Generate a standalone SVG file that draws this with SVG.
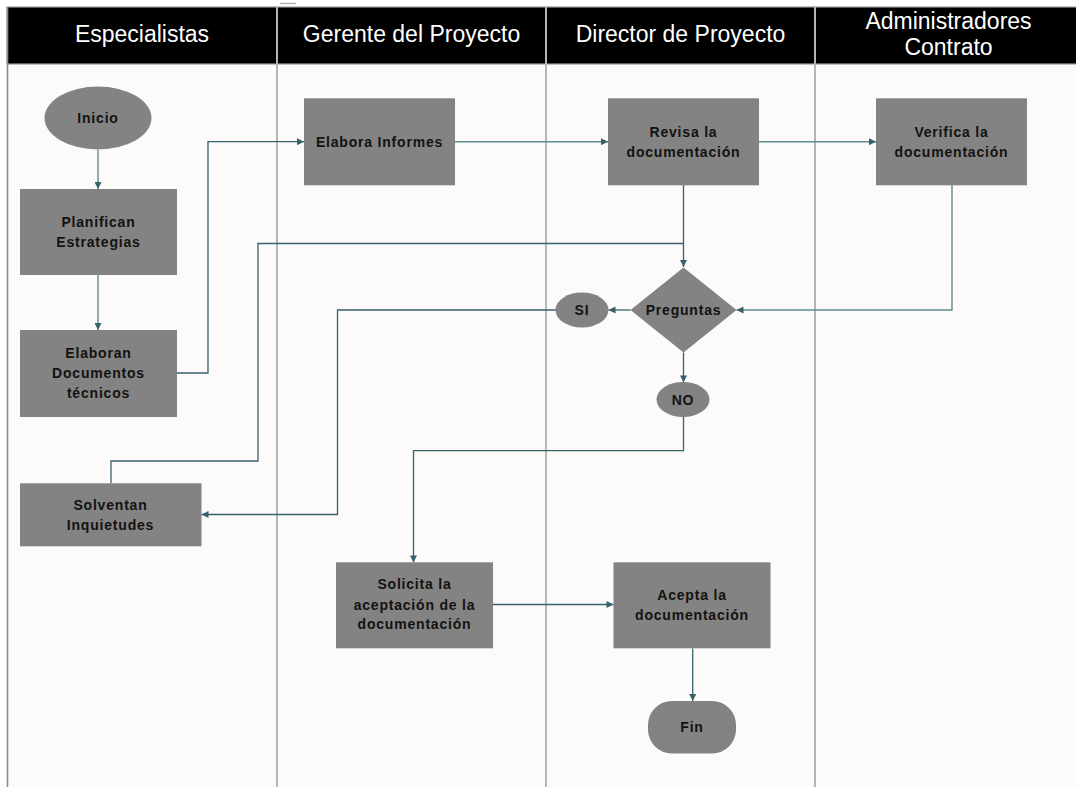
<svg xmlns="http://www.w3.org/2000/svg" width="1076" height="787" viewBox="0 0 1076 787">
  <style>
    .hdr { font-family: "Liberation Sans", Arial, sans-serif; font-size: 23px; fill: #ffffff; text-anchor: middle; }
    .lbl { font-family: "Liberation Sans", Arial, sans-serif; font-size: 14px; font-weight: bold; fill: #141210; text-anchor: middle; letter-spacing: 0.8px; }
    .box { fill: #838383; }
    .lane { stroke: #b5b5b5; stroke-width: 2; fill: none; }
    .edge { fill: none; stroke: #35616a; stroke-width: 1.3; }
    .edge-lt { fill: none; stroke: #5f8c92; stroke-width: 1.4; }
  </style>
  <defs>
    <marker id="arr" viewBox="0 0 10 10" refX="10" refY="5" markerWidth="8" markerHeight="7" markerUnits="userSpaceOnUse" orient="auto">
      <path d="M0,0 L10,5 L0,10 Z" fill="#35616a"/>
    </marker>
  </defs>

  <!-- page background -->
  <rect x="0" y="0" width="1076" height="787" fill="#ffffff"/>
  <rect x="7" y="64" width="1069" height="723" fill="#fcfbf9"/>
  <line x1="280" y1="3.5" x2="296" y2="3.5" stroke="#b0b0b0" stroke-width="1.5"/>

  <!-- swimlane header -->
  <g id="lanes">
    <rect x="7" y="7" width="1072" height="57" fill="#000000" stroke="#9a9a9a" stroke-width="1.2"/>
    <line class="lane" x1="277" y1="7" x2="277" y2="787"/>
    <line class="lane" x1="546" y1="7" x2="546" y2="787"/>
    <line class="lane" x1="815" y1="7" x2="815" y2="787"/>
    <line x1="7.5" y1="7" x2="7.5" y2="787" stroke="#8c8c8c" stroke-width="1.6"/>
    <text class="hdr" x="142" y="41.5">Especialistas</text>
    <text class="hdr" x="411.5" y="41.5">Gerente del Proyecto</text>
    <text class="hdr" x="680.5" y="41.5">Director de Proyecto</text>
    <text class="hdr" x="948.5" y="29">Administradores</text>
    <text class="hdr" x="948.5" y="55">Contrato</text>
  </g>

  <!-- connectors -->
  <g id="connectors">
    <path class="edge-lt" d="M98,150 V189" marker-end="url(#arr)"/>
    <path class="edge-lt" d="M98,275 V330" marker-end="url(#arr)"/>
    <path class="edge" d="M177,373 H208 V141.7 H304" marker-end="url(#arr)"/>
    <path class="edge-lt" d="M455,141.7 H608" marker-end="url(#arr)"/>
    <path class="edge-lt" d="M759,141.7 H876" marker-end="url(#arr)"/>
    <path class="edge" d="M683.5,185 V267" marker-end="url(#arr)"/>
    <path class="edge" d="M111,483 V461 H258 V243.5 H683.5"/>
    <path class="edge-lt" d="M952,185 V310 H736.5" marker-end="url(#arr)"/>
    <path class="edge" d="M630.5,310 H608.5" marker-end="url(#arr)"/>
    <path class="edge" d="M556,310 H337.5 V514.5 H201.5" marker-end="url(#arr)"/>
    <path class="edge" d="M683.5,352.5 V382.5" marker-end="url(#arr)"/>
    <path class="edge" d="M683.5,416.5 V450.7 H413.5 V562.5" marker-end="url(#arr)"/>
    <path class="edge" d="M493,604.5 H613.5" marker-end="url(#arr)"/>
    <path class="edge" d="M692.7,648.5 V701" marker-end="url(#arr)"/>
  </g>

  <!-- nodes -->
  <g id="inicio">
    <ellipse class="box" cx="98" cy="118" rx="53.5" ry="31.5"/>
    <text class="lbl" x="98" y="123">Inicio</text>
  </g>
  <g id="planifican">
    <rect class="box" x="20" y="189" width="157" height="86"/>
    <text class="lbl" x="98.5" y="227">Planifican</text>
    <text class="lbl" x="98.5" y="247">Estrategias</text>
  </g>
  <g id="elaboran">
    <rect class="box" x="20" y="330" width="157" height="87"/>
    <text class="lbl" x="98.5" y="358">Elaboran</text>
    <text class="lbl" x="98.5" y="378">Documentos</text>
    <text class="lbl" x="98.5" y="398">técnicos</text>
  </g>
  <g id="elabora-informes">
    <rect class="box" x="304" y="98.3" width="151" height="87"/>
    <text class="lbl" x="379.5" y="146.7">Elabora Informes</text>
  </g>
  <g id="revisa">
    <rect class="box" x="608" y="98.3" width="151" height="87"/>
    <text class="lbl" x="683.5" y="137">Revisa la</text>
    <text class="lbl" x="683.5" y="156.5">documentación</text>
  </g>
  <g id="verifica">
    <rect class="box" x="876" y="98.3" width="151" height="87"/>
    <text class="lbl" x="951.5" y="137">Verifica la</text>
    <text class="lbl" x="951.5" y="156.5">documentación</text>
  </g>
  <g id="preguntas">
    <polygon class="box" points="683.5,267.5 736.5,310 683.5,352.5 630.5,310"/>
    <text class="lbl" x="683.5" y="315">Preguntas</text>
  </g>
  <g id="si">
    <ellipse class="box" cx="582" cy="310" rx="26.5" ry="17.5"/>
    <text class="lbl" x="582" y="315">SI</text>
  </g>
  <g id="no">
    <ellipse class="box" cx="683" cy="399.5" rx="26.5" ry="17.5"/>
    <text class="lbl" x="683" y="404.5">NO</text>
  </g>
  <g id="solventan">
    <rect class="box" x="20" y="483.3" width="181.5" height="63"/>
    <text class="lbl" x="110.5" y="510">Solventan</text>
    <text class="lbl" x="110.5" y="530">Inquietudes</text>
  </g>
  <g id="solicita">
    <rect class="box" x="336" y="562.3" width="157" height="86"/>
    <text class="lbl" x="414.5" y="589">Solicita la</text>
    <text class="lbl" x="414.5" y="609.5">aceptación de la</text>
    <text class="lbl" x="414.5" y="629">documentación</text>
  </g>
  <g id="acepta">
    <rect class="box" x="613.5" y="562.3" width="157" height="86"/>
    <text class="lbl" x="692" y="600">Acepta la</text>
    <text class="lbl" x="692" y="619.5">documentación</text>
  </g>
  <g id="fin">
    <rect class="box" x="648" y="701" width="88" height="52.5" rx="24" ry="24"/>
    <text class="lbl" x="692" y="732">Fin</text>
  </g>
</svg>
